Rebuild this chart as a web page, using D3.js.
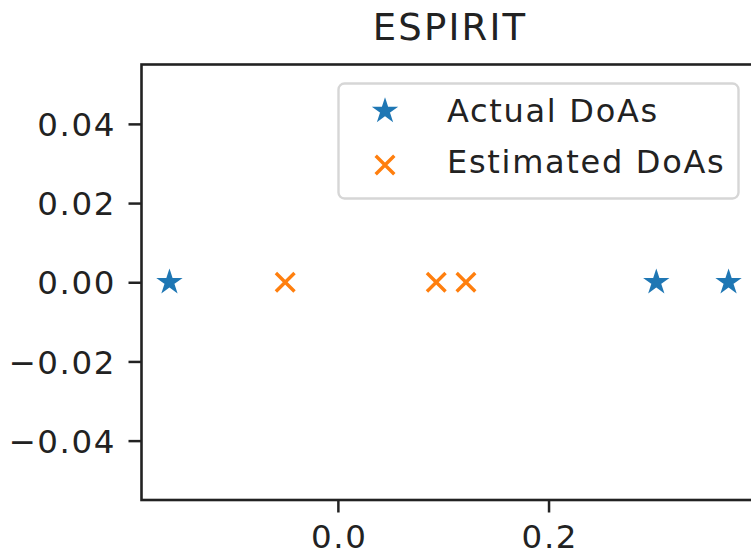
<!DOCTYPE html>
<html>
<head>
<meta charset="utf-8">
<script src="https://cdn.jsdelivr.net/npm/d3@7"></script>
<style>
  html, body { margin: 0; padding: 0; background: #fff; }
  svg { display: block; font-family: "DejaVu Sans", sans-serif; }
</style>
</head>
<body>
<svg id="chart" width="751" height="557"></svg>
<script>
// Directions of arrival (all plotted on the y = 0 line)
const actualDoAs = [-0.1599, 0.3023, 0.3709];
const estimatedDoAs = [-0.0500, 0.0934, 0.1216];
const xTickValues = [0.0, 0.2];
const yTickValues = [-0.04, -0.02, 0.00, 0.02, 0.04];
const legendLabels = ["Actual DoAs", "Estimated DoAs"];
const titleText = "ESPIRIT";

const BLUE = "#1f77b4", ORANGE = "#ff7f0e";
const INK = "#222";
const plot = { left: 141.5, right: 756.5, top: 64.5, bottom: 500 };

const svg = d3.select("#chart");

// x limits with 5% margins around the data
const allX = actualDoAs.concat(estimatedDoAs);
const [xMin, xMax] = d3.extent(allX);
const pad = (xMax - xMin) * 0.05;
const x = d3.scaleLinear().domain([xMin - pad, xMax + pad]).range([plot.left, plot.right]);
// constant-zero data: +/-0.05 expanded by 5% margins
const y = d3.scaleLinear().domain([-0.055, 0.055]).range([plot.bottom, plot.top]);

const fmtY = v => d3.format(".2f")(v).replace("-", "\u2212");
const fmtX = v => d3.format(".1f")(v).replace("-", "\u2212");

// Axes
const xAxis = d3.axisBottom(x).tickValues(xTickValues).tickFormat(fmtX).tickSize(12.5).tickPadding(12);
const yAxis = d3.axisLeft(y).tickValues(yTickValues).tickFormat(fmtY).tickSize(13).tickPadding(12.5);

const gx = svg.append("g").attr("transform", `translate(0,${plot.bottom})`).call(xAxis);
const gy = svg.append("g").attr("transform", `translate(${plot.left},0)`).call(yAxis);
[gx, gy].forEach(g => {
  g.select(".domain").remove();
  g.selectAll(".tick line").attr("stroke", INK).attr("stroke-width", 2.5);
  g.selectAll(".tick text").attr("fill", INK)
    .style("font-size", "32.5px").style("letter-spacing", "1.6px")
    .style("font-family", "DejaVu Sans, sans-serif");
});
gy.selectAll(".tick text").attr("dy", "0.36em");
gx.selectAll(".tick text").attr("dx", "0.8px");

// Spines (frame)
svg.append("rect")
  .attr("x", plot.left).attr("y", plot.top)
  .attr("width", plot.right - plot.left).attr("height", plot.bottom - plot.top)
  .attr("fill", "none").attr("stroke", INK).attr("stroke-width", 2.6);

// Title
svg.append("text")
  .attr("x", (plot.left + plot.right) / 2 + 1).attr("y", 40)
  .attr("text-anchor", "middle")
  .style("font-size", "37px").style("letter-spacing", "2.2px").attr("fill", INK)
  .text(titleText);

// Marker shapes
function starPath(R) {
  const r = R * 0.381966;
  const pts = [];
  for (let i = 0; i < 10; i++) {
    const a = -Math.PI / 2 + i * Math.PI / 5;
    const rad = i % 2 === 0 ? R : r;
    pts.push([rad * Math.cos(a), rad * Math.sin(a)]);
  }
  return "M" + pts.map(p => p.join(",")).join("L") + "Z";
}
function crossPath(s) {
  return `M${-s},${-s}L${s},${s}M${-s},${s}L${s},${-s}`;
}
const STAR = starPath(10.3), CROSS = crossPath(9.3);

// Data marks
const marks = svg.append("g");
marks.selectAll(".actual").data(actualDoAs).join("path")
  .attr("class", "actual")
  .attr("d", STAR)
  .attr("transform", d => `translate(${x(d)},${y(0)})`)
  .attr("fill", BLUE).attr("stroke", BLUE).attr("stroke-width", 2.2).attr("stroke-linejoin", "miter");
marks.selectAll(".estimated").data(estimatedDoAs).join("path")
  .attr("class", "estimated")
  .attr("d", CROSS)
  .attr("transform", d => `translate(${x(d)},${y(0)})`)
  .attr("fill", "none").attr("stroke", ORANGE).attr("stroke-width", 3.4);

// Legend (upper right)
const lg = { x: 338.5, y: 83.5, w: 400, h: 115 };
const legend = svg.append("g");
legend.append("rect")
  .attr("x", lg.x).attr("y", lg.y).attr("width", lg.w).attr("height", lg.h)
  .attr("rx", 6).attr("ry", 6)
  .attr("fill", "#fff").attr("fill-opacity", 0.8)
  .attr("stroke", "#d6d6d6").attr("stroke-width", 2.4);
const rows = [
  { label: legendLabels[0], shape: STAR, color: BLUE, filled: true, cy: 111, base: 121.7 },
  { label: legendLabels[1], shape: CROSS, color: ORANGE, filled: false, cy: 165, base: 173.3 }
];
rows.forEach(r => {
  legend.append("path")
    .attr("d", r.shape)
    .attr("transform", `translate(385,${r.cy})`)
    .attr("fill", r.filled ? r.color : "none")
    .attr("stroke", r.color).attr("stroke-width", r.filled ? 2.2 : 3.4);
  legend.append("text")
    .attr("x", 447).attr("y", r.base)
    .style("font-size", "32px").style("letter-spacing", "1.7px").attr("fill", INK)
    .text(r.label);
});
</script>
</body>
</html>
